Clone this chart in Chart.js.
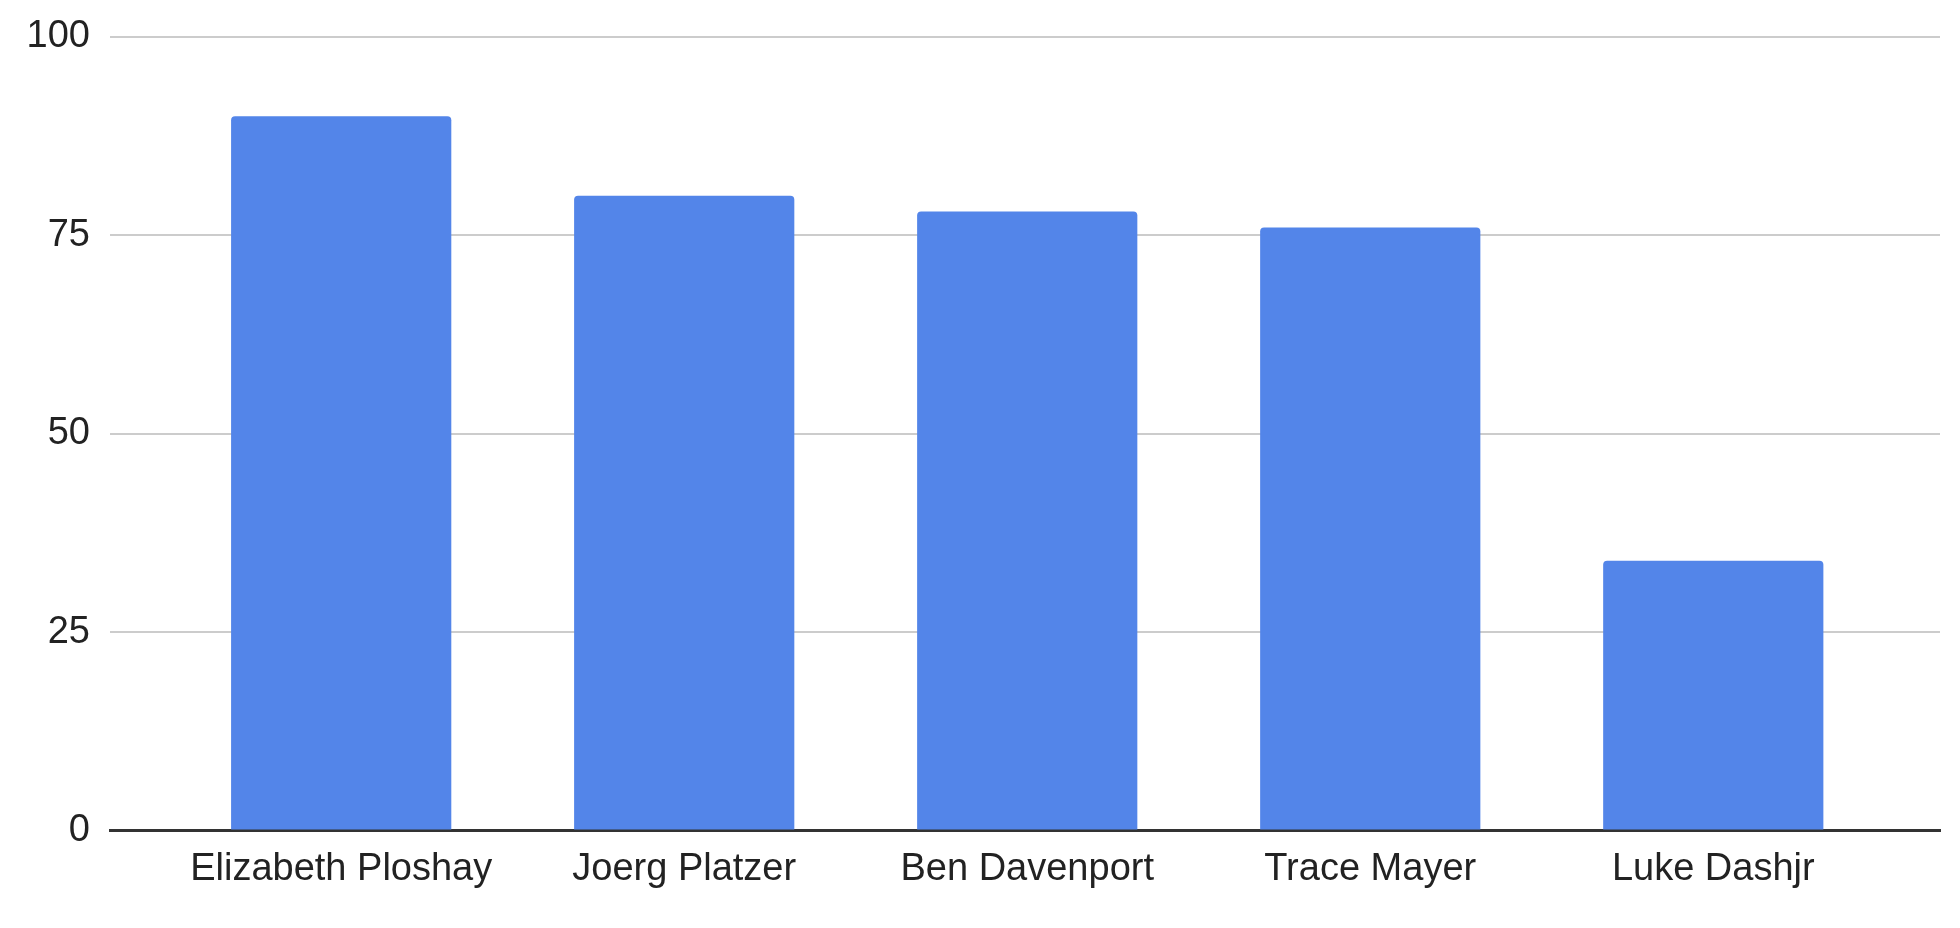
<!DOCTYPE html>
<html>
<head>
<meta charset="utf-8">
<script src="https://cdn.jsdelivr.net/npm/chart.js@4/dist/chart.umd.min.js"></script>
<style>
    html, body {margin: 0; padding: 0; background: #ffffff;}
    #wrap {width: 1960px; height: 928px;}
</style>
</head>
<body>
<div id="wrap"><canvas id="myChart" width="1960" height="928"></canvas></div>
<script>
const categories = ['Elizabeth Ploshay', 'Joerg Platzer', 'Ben Davenport', 'Trace Mayer', 'Luke Dashjr'];
const values = [90, 80, 78, 76, 34];
const yTicks = [0, 25, 50, 75, 100];

// bars sit on a linear x axis so the gridlines can run past the outer bars
const points = values.map((v, i) => ({x: i, y: v}));

const ctx = document.getElementById('myChart').getContext('2d');
const myChart = new Chart(ctx, {
    type: 'bar',
    data: {
        datasets: [{
            data: points,
            backgroundColor: '#5385e9',
            borderRadius: 4,
            borderSkipped: 'start',
            categoryPercentage: 1,
            barPercentage: 0.642
        }]
    },
    options: {
        responsive: false,
        animation: false,
        layout: {padding: {top: 37, right: 20, bottom: 20, left: 0}},
        plugins: {legend: {display: false}, tooltip: {enabled: false}},
        scales: {
            x: {
                type: 'linear',
                offset: false,
                min: -0.674,
                max: 4.661,
                grid: {display: false, drawTicks: false, offset: false},
                border: {display: true, color: '#333333', width: 3},
                afterBuildTicks: scale => {
                    scale.ticks = categories.map((c, i) => ({value: i}));
                },
                ticks: {
                    autoSkip: false,
                    maxRotation: 0,
                    padding: 16,
                    color: '#222222',
                    font: {family: 'Arial, "Liberation Sans", sans-serif', size: 38},
                    callback: value => categories[value]
                }
            },
            y: {
                min: 0,
                max: 100,
                afterBuildTicks: scale => {
                    scale.ticks = yTicks.map(v => ({value: v}));
                },
                afterFit: scale => {
                    scale.width = 110;
                    // let the layout padding decide where the top gridline sits
                    scale.paddingTop = 0;
                    scale.paddingBottom = 0;
                },
                grid: {color: '#cccccc', lineWidth: 2, drawTicks: false},
                border: {display: false},
                ticks: {
                    padding: 20,
                    color: '#222222',
                    font: {family: 'Arial, "Liberation Sans", sans-serif', size: 38}
                }
            }
        }
    }
});
</script>
</body>
</html>
